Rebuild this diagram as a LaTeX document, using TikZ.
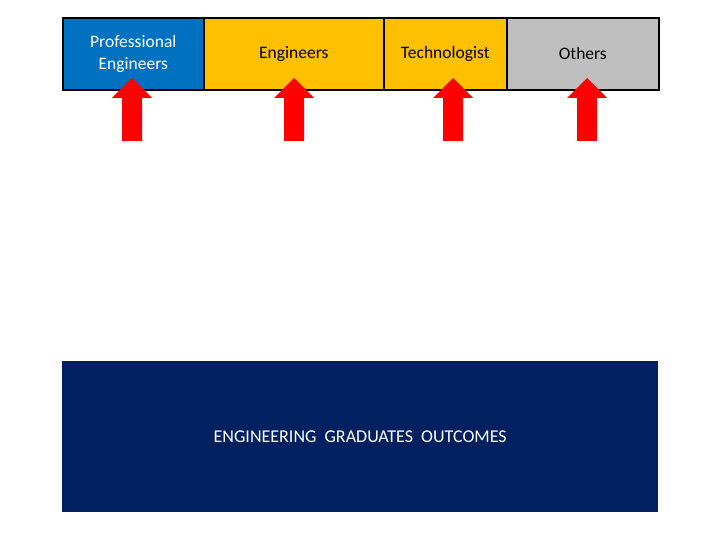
\documentclass[tikz,border=0pt]{standalone}
\usepackage{fontspec}
\setmainfont{Carlito}
\definecolor{pblue}{HTML}{0070C0}
\definecolor{pyellow}{HTML}{FFC000}
\definecolor{pgray}{HTML}{BFBFBF}
\definecolor{pnavy}{HTML}{002060}
\definecolor{pred}{HTML}{FF0000}
\tikzset{
  topbox/.style={draw=black, line width=1.6pt, minimum height=72pt, inner sep=0pt, anchor=north west, font=\fontsize{17.5}{22}\selectfont, align=center},
  uparrow/.style={fill=pred, draw=none},
}
\begin{document}
\begin{tikzpicture}[x=1pt,y=-1pt]
\useasboundingbox (0,0) rectangle (720,540);
\node[topbox, fill=pblue, text=white, minimum width=141pt] (pe) at (62,17) {Professional\\Engineers};
\node[topbox, fill=pyellow, minimum width=180pt] (en) at (203,17) {Engineers};
\node[topbox, fill=pyellow, minimum width=123pt] (te) at (383,17) {Technologist};
\node[topbox, fill=pgray, minimum width=152pt] (ot) at (506,17) {Others};
\node[fill=pnavy, text=white, minimum width=596pt, minimum height=151pt, inner sep=0pt, anchor=north west, font=\fontsize{18}{22}\selectfont] (out) at (62,361) {ENGINEERING\ \ GRADUATES\ \ OUTCOMES};
\foreach \cx in {132,294,453,587}{
  \fill[uparrow] (\cx,78) -- (\cx+20,98) -- (\cx+10,98) -- (\cx+10,141) -- (\cx-10,141) -- (\cx-10,98) -- (\cx-20,98) -- cycle;
}
\end{tikzpicture}
\end{document}
